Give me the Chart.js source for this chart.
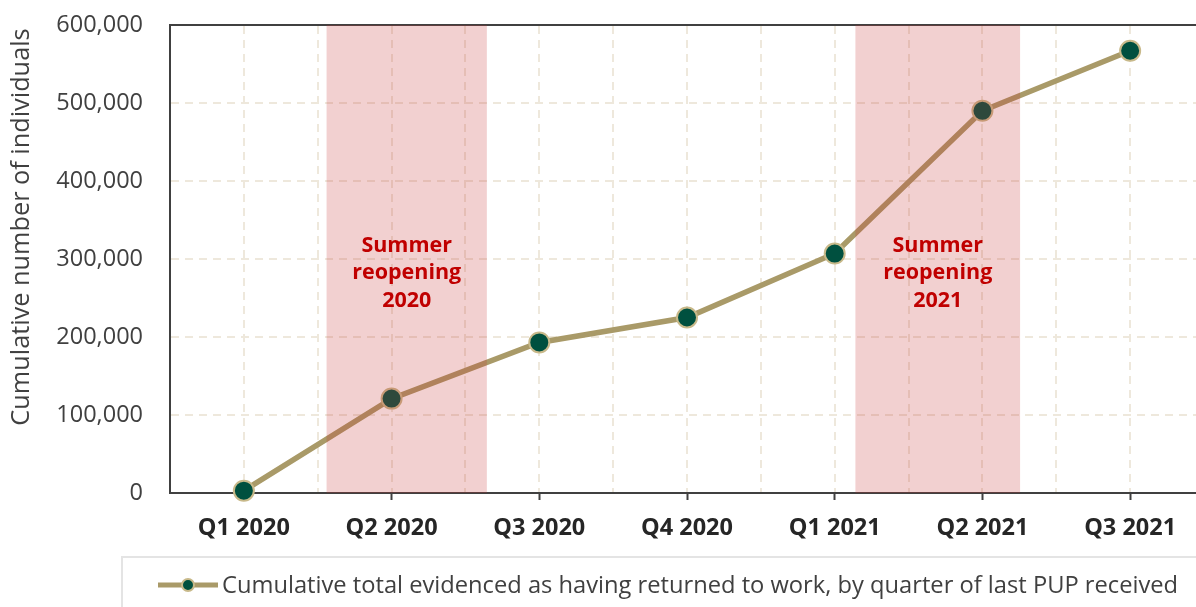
<!DOCTYPE html>
<html>
<head>
<meta charset="utf-8">
<script src="https://cdn.jsdelivr.net/npm/chart.js@4.4.0/dist/chart.umd.min.js"></script>
<style>
  html, body { margin: 0; padding: 0; background: #fff; overflow: hidden; }
  #wrap { width: 1210px; height: 607px; }
</style>
</head>
<body>
<div id="wrap"><canvas id="chart" width="1210" height="607"></canvas></div>
<script>
// data
const quarters = ["Q1 2020", "Q2 2020", "Q3 2020", "Q4 2020", "Q1 2021", "Q2 2021", "Q3 2021"];
const returnedToWork = [3000, 121000, 193000, 225000, 307000, 490000, 567000];
const seriesLabel = "Cumulative total evidenced as having returned to work, by quarter of last PUP received";
const yTitle = "Cumulative number of individuals";

// shaded periods, in quarter-index units
const reopenStart = [0.56, 4.14];
const reopenEnd = [1.645, 5.255];
const reopenText = [["Summer", "reopening", "2020"], ["Summer", "reopening", "2021"]];

const FONT = "'Open Sans', 'Noto Sans', sans-serif";
const AXIS = "#404040";
const GRID = "#eee8dc";
const KHAKI = "#a99a68";

// pink bands drawn over the line, with their labels
const bandsPlugin = {
  id: "bands",
  afterDatasetsDraw(chart) {
    const { ctx, chartArea: a } = chart;
    const xs = chart.scales.xg, ys = chart.scales.y;
    ctx.save();
    for (let i = 0; i < reopenStart.length; i++) {
      const x0 = xs.getPixelForValue(reopenStart[i]);
      const x1 = xs.getPixelForValue(reopenEnd[i]);
      ctx.fillStyle = "rgba(200,50,50,0.23)";
      ctx.fillRect(x0, a.top, x1 - x0, a.bottom - a.top);
      ctx.fillStyle = "#c00000";
      ctx.font = "bold 21.5px " + FONT;
      ctx.textAlign = "center";
      ctx.textBaseline = "middle";
      const cy = ys.getPixelForValue(282000);
      reopenText[i].forEach((t, k) => ctx.fillText(t, (x0 + x1) / 2, cy + (k - 1) * 27.5));
    }
    ctx.restore();
  }
};

// rotated y title + boxed legend at the bottom
const extrasPlugin = {
  id: "extras",
  afterDraw(chart) {
    const { ctx } = chart;
    ctx.save();
    ctx.fillStyle = AXIS;
    ctx.font = "25.3px " + FONT;
    ctx.textAlign = "center";
    ctx.textBaseline = "middle";
    ctx.translate(22, 227);
    ctx.rotate(-Math.PI / 2);
    ctx.fillText(yTitle, 0, 0);
    ctx.restore();

    ctx.save();
    ctx.strokeStyle = "#e4e4e4";
    ctx.lineWidth = 2;
    ctx.strokeRect(122, 557, 1200, 80);
    const ly = 585;
    ctx.strokeStyle = KHAKI;
    ctx.lineWidth = 5;
    ctx.beginPath(); ctx.moveTo(158, ly); ctx.lineTo(218, ly); ctx.stroke();
    ctx.beginPath(); ctx.arc(188, ly, 6, 0, Math.PI * 2);
    ctx.fillStyle = "#00503f"; ctx.fill();
    ctx.lineWidth = 2; ctx.strokeStyle = "#c8b98a"; ctx.stroke();
    ctx.fillStyle = AXIS;
    ctx.font = "23.7px " + FONT;
    ctx.textAlign = "left";
    ctx.textBaseline = "middle";
    ctx.fillText(chart.data.datasets[0].label, 222, ly + 1);
    ctx.restore();
  }
};

new Chart(document.getElementById("chart"), {
  type: "line",
  data: {
    labels: quarters,
    datasets: [{
      label: seriesLabel,
      data: returnedToWork,
      borderColor: KHAKI,
      borderWidth: 5.5,
      pointRadius: 10,
      pointHoverRadius: 10,
      pointBackgroundColor: "#00503f",
      pointBorderColor: "#c8b98a",
      pointBorderWidth: 2,
      tension: 0,
      clip: false
    }]
  },
  options: {
    responsive: false,
    animation: false,
    layout: { autoPadding: false, padding: { top: 25, right: 6, bottom: 54, left: 0 } },
    plugins: { legend: { display: false }, tooltip: { enabled: false } },
    scales: {
      x: {
        offset: true,
        grid: { drawOnChartArea: false, drawTicks: true, tickLength: 7, tickColor: AXIS, tickWidth: 2 },
        border: { color: AXIS, width: 2 },
        ticks: { font: { family: FONT, size: 23.5, weight: "bold" }, color: "#262626", padding: 14, maxRotation: 0 },
        afterFit: s => { s.height = 60; }
      },
      xg: {
        type: "linear",
        position: "top",
        min: -0.5,
        max: 6.5,
        ticks: { display: false, stepSize: 0.5 },
        grid: { color: GRID, lineWidth: 2, drawTicks: false },
        border: { color: AXIS, width: 2, dash: [8, 6] },
        afterFit: s => { s.height = 0; s.paddingTop = 0; s.paddingBottom = 0; }
      },
      y: {
        min: 0,
        max: 600000,
        ticks: {
          stepSize: 100000,
          padding: 27,
          color: AXIS,
          font: { family: FONT, size: 23.5 },
          callback: v => v.toLocaleString("en-US")
        },
        grid: { color: GRID, lineWidth: 2, drawTicks: false },
        border: { color: AXIS, width: 2, dash: [8, 6] },
        afterFit: s => { s.width = 170; s.paddingTop = 0; s.paddingBottom = 0; }
      }
    }
  },
  plugins: [bandsPlugin, extrasPlugin]
});
</script>
</body>
</html>
